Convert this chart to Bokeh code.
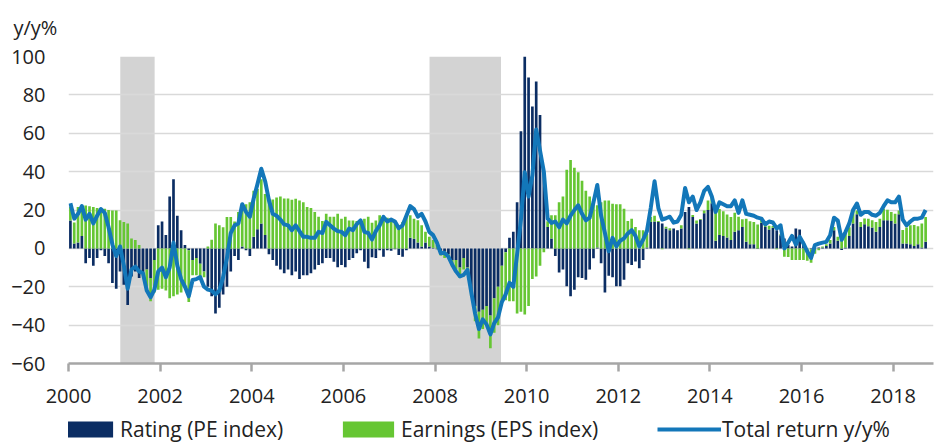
import numpy as np
from bokeh.plotting import figure
from bokeh.layouts import column
from bokeh.models import (Range1d, FixedTicker, Legend, LegendItem,
                          ColumnDataSource)
from bokeh.embed import file_html
from bokeh.resources import INLINE

# ---------------- data (monthly, Jan 2000 - Sep 2018) ----------------
start_year = 2000

rating = [
    14.5, 2.5, 3, 6.4, -7.8, -5, -9, -5, -1, -4, -7.8, -18,            # 2000
    -21, -12, -19, -29.5, -14.6, -12, -15.5, -13, -11, -15.5, -6, 12,  # 2001
    14, 7, 27, 36, 17, 9.5, 1.7, -1, -6, -5, -8, -12,                  # 2002
    -20, -25, -34, -31, -24, -20, -12, -4, -6, 1, -1, -4,              # 2003
    6, 10, 13, 7, -3, -6, -9, -11, -13, -11, -14, -12,                 # 2004
    -16, -14, -14, -13, -11, -8.6, -7.8, -5, -5, -7, -9.8, -8.6,       # 2005
    -9.8, -6, -5, -2.6, -1, -7, -10.3, -4.6, -5, -1, -4.3, -1,         # 2006
    -1.2, -0.5, -3.4, -4.3, -1, 5.5, 5, 3, 1, 3, 1, 0.3,               # 2007
    -0.5, -2, -1.5, -3, -6, -6, -10, -5, -10, -23, -30, -33,           # 2008
    -32, -30, -35, -26, -20, -9, -2, 5.5, 8.6, 24, 61, 101,            # 2009
    89, 74, 87, 69.5, 39.7, 11.2, 5.2, -4, -12.6, -11, -19.8, -25,     # 2010
    -21.5, -15, -15.5, -16.4, -11, -5.2, 0.5, -7.8, -23, -14.3, -15, -19.8,  # 2011
    -19.8, -16.4, -7.8, -8.6, -6.9, -10.3, -6, 0.5, 13.8, 14, 13.8, 13,      # 2012
    10.3, 9.5, 10.3, 9.5, 10.3, 19, 21.5, 16.4, 13, 14.8, 18.3, 20,    # 2013
    23.5, 4, 7, 6.4, 5.7, 4.3, 8.6, 9.5, 11.2, 3.4, 2.2, 2.2,          # 2014
    -0.3, 13.3, 11.2, 9.8, 10.7, 9.5, 6.9, 5.2, 1.7, 1, 10.3, 9.8,     # 2015
    3.4, 0, -0.5, -0.3, 0.5, 0.5, 1.2, 2.6, 9.5, 4, -0.9, 0.5,         # 2016
    6.4, 13, 17.8, 11.2, 12.6, 11.5, 10.9, 8.6, 11.2, 14.6, 14.6, 14.3,  # 2017
    13, 17.8, 2.6, 2.6, 2.2, 1.2, 2.2, 0.5, 3.4,                       # 2018
]

earnings = [
    7, 11, 18.5, 16, 22.4, 22, 21.5, 21, 21, 20.7, 20, 19.8,           # 2000
    19.8, 14.6, 13.8, 13, 5.2, 4.3, 1.7, -1, -9, -12, -17, -21.5,      # 2001
    -21, -22, -26, -25, -24, -23, -20, -27, -8, -9, -7, -3,            # 2002
    1, 4.5, 13, 12, 11, 16.4, 16.4, 14, 19, 20.5, 23, 24,              # 2003
    24, 21, 23, 21.4, 26, 25.5, 26.5, 27, 26, 26, 25.3, 25.8,          # 2004
    25, 24, 21.5, 21, 19, 16.5, 14.3, 18, 16.5, 16.5, 18, 15.5,        # 2005
    16.5, 14.5, 14.5, 14.3, 15, 15.5, 16.5, 13.3, 14.5, 17.2, 15.9, 16,  # 2006
    15, 13.8, 11.5, 13.8, 18, 11.7, 10.5, 11.6, 11, 5.6, 5, 4,         # 2007
    1.7, -1.7, -3.5, -2, -3.5, -5, -5.5, -6, -3, -2, -8, -14,          # 2008
    -10, -10, -17, -18, -20, -19, -25, -27.6, -27.6, -34, -33, -34.5,  # 2009
    -30, -16, -14.6, -9, -2, 3, 12, 17.2, 24, 27, 41, 46,              # 2010
    42, 39.7, 35.3, 30, 27, 25.5, 22, 24, 25, 25, 23.3, 23,            # 2011
    23, 20.7, 14.3, 15.5, 11.2, 9.5, 9.5, 7, 2.6, 3, 0.5, -0.5,        # 2012
    1, 1, 0, 0, 1.7, 0, -0.5, 1, 1.5, 0.5, 1.5, 5,                     # 2013
    3, 16, 13.5, 13, 12, 12, 10, 7, 4, 12, 12, 11.5,                   # 2014
    12.5, 2, 1.5, 2, 1, -0.5, 0.5, -4.3, -4.5, -6, -6, -6,             # 2015
    -6, -6.5, -7, -2.5, -1, 0.5, 1, 1.7, 1.7, 2, 4.3, 9,               # 2016
    4.6, 7.7, 2, 2.6, 3, 4, 3.7, 5.2, 4.3, 6, 5.5, 4.7,                # 2017
    5, 2, 7, 8.3, 9.8, 11, 9.3, 12.5, 13,                              # 2018
]

total_return = [
    23.5, 15.5, 18, 22, 15, 18, 13, 17, 20.5, 18.5, 11, 2,             # 2000
    -4, 1, -9, -21, -11, -9.5, -12, -13, -22, -25.5, -21.5, -12,       # 2001
    -10, -15, -10, 3, -9, -16, -20, -25, -16.5, -16, -15, -20,         # 2002
    -21.5, -22, -24, -22, -15, -5, 8, 12, 13, 23, 19, 16.5,            # 2003
    26, 33.5, 41.5, 35, 25, 18, 17, 15, 12.5, 12, 9.5, 12,             # 2004
    9, 6, 6, 5.5, 5.5, 8.6, 8, 13.8, 12, 10.3, 9, 8.6,                 # 2005
    6.9, 10.3, 9.5, 12.6, 14.6, 8.6, 8, 4.6, 9, 12, 16.4, 14,          # 2006
    15, 14, 10.5, 12, 17, 22, 20.5, 16.5, 18, 14, 8.6, 6.9,            # 2007
    3, -2.6, -2.3, -4.3, -8.5, -12, -14.6, -13.8, -11.2, -23, -34, -42,  # 2008
    -37, -39.6, -44.8, -39, -36, -28, -24, -18, -20, -3, 15, 39.7,     # 2009
    27, 38, 62, 51, 40, 15.5, 13.3, 14, 11, 15, 13, 17,                # 2010
    20, 22.4, 18, 14.6, 16, 24, 33, 17, 8, -1.5, 5.5, 1,               # 2011
    4, 5.2, 7.8, 9.5, 6.5, 1, 4.5, 9, 21, 35, 21, 15,                  # 2012
    15.7, 16.5, 13.4, 14, 17.5, 31.5, 24, 27, 20, 24, 30, 32,          # 2013
    27, 19, 24, 23, 22, 22, 25, 18.5, 25, 18, 17.5, 17,                # 2014
    16, 15.5, 12.5, 14, 13.5, 10.4, 12, 0, 3, 6.5, 2, 6,               # 2015
    2.6, -1.7, -5, 1.7, 2.5, 3, 3.4, 6.9, 16, 14.5, 4.5, 8.5,          # 2016
    13, 20, 23.4, 17.5, 19, 19, 17.5, 17, 18.5, 22, 25, 24,            # 2017
    24, 27, 15, 12, 14, 15.5, 15.5, 16, 20,                            # 2018
]

recession_start = [2001.13, 2007.88]
recession_end = [2001.88, 2009.44]

x_ticks = [2000, 2002, 2004, 2006, 2008, 2010, 2012, 2014, 2016, 2018]
y_ticks = [-60, -40, -20, 0, 20, 40, 60, 80, 100]

series_labels = ["Rating (PE index)", "Earnings (EPS index)", "Total return y/y%"]
y_unit_label = "y/y%"

# ---------------- derived positions ----------------
n = len(rating)
x = np.array([start_year + (i + 0.5) / 12.0 for i in range(n)])
r = np.array(rating, dtype=float)
e = np.array(earnings, dtype=float)
e_bottom = np.where(np.sign(e) == np.sign(r), r, 0.0)
e_top = e_bottom + e

src = ColumnDataSource(dict(x=x, r_top=r, r_bottom=np.zeros(n),
                            e_top=e_top, e_bottom=e_bottom,
                            tr=np.array(total_return, dtype=float)))

NAVY = "#0b2d63"
GREEN = "#66c633"
BLUE = "#1377b9"
FONT = "Open Sans"
TXT = "#222222"

MAIN_H = 415
LEG_H = 28

p = figure(width=938, height=MAIN_H, output_backend="svg", toolbar_location=None,
           x_range=Range1d(2000, 2018.88), y_range=Range1d(-60, 100),
           min_border_left=68, min_border_right=5, min_border_top=54,
           min_border_bottom=MAIN_H - 363)
p.outline_line_color = None
p.background_fill_color = "white"
p.border_fill_color = "white"

# unit label as title (outside the frame)
p.title.text = y_unit_label
p.title.align = "left"
p.title.offset = -55
p.title.standoff = 27
p.title.text_font = FONT
p.title.text_font_size = "20px"
p.title.text_font_style = "normal"
p.title.text_color = TXT
p.title.vertical_align = "top"

# recession bands
p.quad(left=recession_start, right=recession_end, bottom=-60, top=100,
       fill_color="#d3d3d3", line_color=None, level="image")

bw = 0.7 / 12
p.vbar(x="x", width=bw, top="r_top", bottom="r_bottom", source=src,
       fill_color=NAVY, line_color=None)
p.vbar(x="x", width=bw, top="e_top", bottom="e_bottom", source=src,
       fill_color=GREEN, line_color=None)
p.line(x="x", y="tr", source=src, line_color=BLUE, line_width=4,
       line_join="round")

# axes
p.xaxis.ticker = FixedTicker(ticks=x_ticks)
p.xaxis.major_label_overrides = {t: str(t) for t in x_ticks}
p.xaxis.axis_line_color = "#a6a6a6"
p.xaxis.axis_line_width = 2.5
p.xaxis.major_tick_line_color = "#a6a6a6"
p.xaxis.major_tick_line_width = 2.5
p.xaxis.major_tick_out = 8
p.xaxis.major_tick_in = 0
p.xaxis.minor_tick_line_color = None
p.xaxis.major_label_standoff = 17
p.xaxis.major_label_text_font = FONT
p.xaxis.major_label_text_font_size = "20px"
p.xaxis.major_label_text_color = TXT

p.yaxis.ticker = FixedTicker(ticks=y_ticks)
p.yaxis.axis_line_color = None
p.yaxis.major_tick_line_color = None
p.yaxis.minor_tick_line_color = None
p.yaxis.major_tick_out = 0
p.yaxis.major_tick_in = 0
p.yaxis.major_label_standoff = 23
p.yaxis.major_label_text_font = FONT
p.yaxis.major_label_text_font_size = "20px"
p.yaxis.major_label_text_color = TXT

p.xgrid.grid_line_color = None
p.ygrid.grid_line_color = "#d9d9d9"
p.ygrid.grid_line_width = 1.5

# ---------------- legend strip (separate small figure) ----------------
lf = figure(width=938, height=LEG_H, output_backend="svg", toolbar_location=None,
            x_range=Range1d(0, 1), y_range=Range1d(0, 1),
            x_axis_location=None, y_axis_location=None,
            min_border_left=0, min_border_right=0,
            min_border_top=0, min_border_bottom=0)
lf.outline_line_color = None
lf.grid.visible = False
# legend proxies: one point each, placed outside the visible range
lr1 = lf.vbar(x=[-5], width=0.1, top=[-5], bottom=[-6], fill_color=NAVY, line_color=None)
lr2 = lf.vbar(x=[-5], width=0.1, top=[-5], bottom=[-6], fill_color=GREEN, line_color=None)
lr3 = lf.line(x=[-5, -4], y=[-5, -5], line_color=BLUE, line_width=4)

legend_x = [-13, 268, 589]   # screen offsets of the three legend entries
for lbl, rend, lx in zip(series_labels, [lr1, lr2, lr3], legend_x):
    lg = Legend(items=[LegendItem(label=lbl, renderers=[rend])],
                orientation="horizontal", location=(lx, 0),
                glyph_width=64, glyph_height=20, label_standoff=1,
                padding=0, margin=0,
                border_line_color=None, background_fill_alpha=0,
                label_text_font=FONT, label_text_font_size="21px",
                label_text_color=TXT)
    lf.add_layout(lg)

open("out.html", "w").write(file_html(column(p, lf, spacing=0), INLINE))
